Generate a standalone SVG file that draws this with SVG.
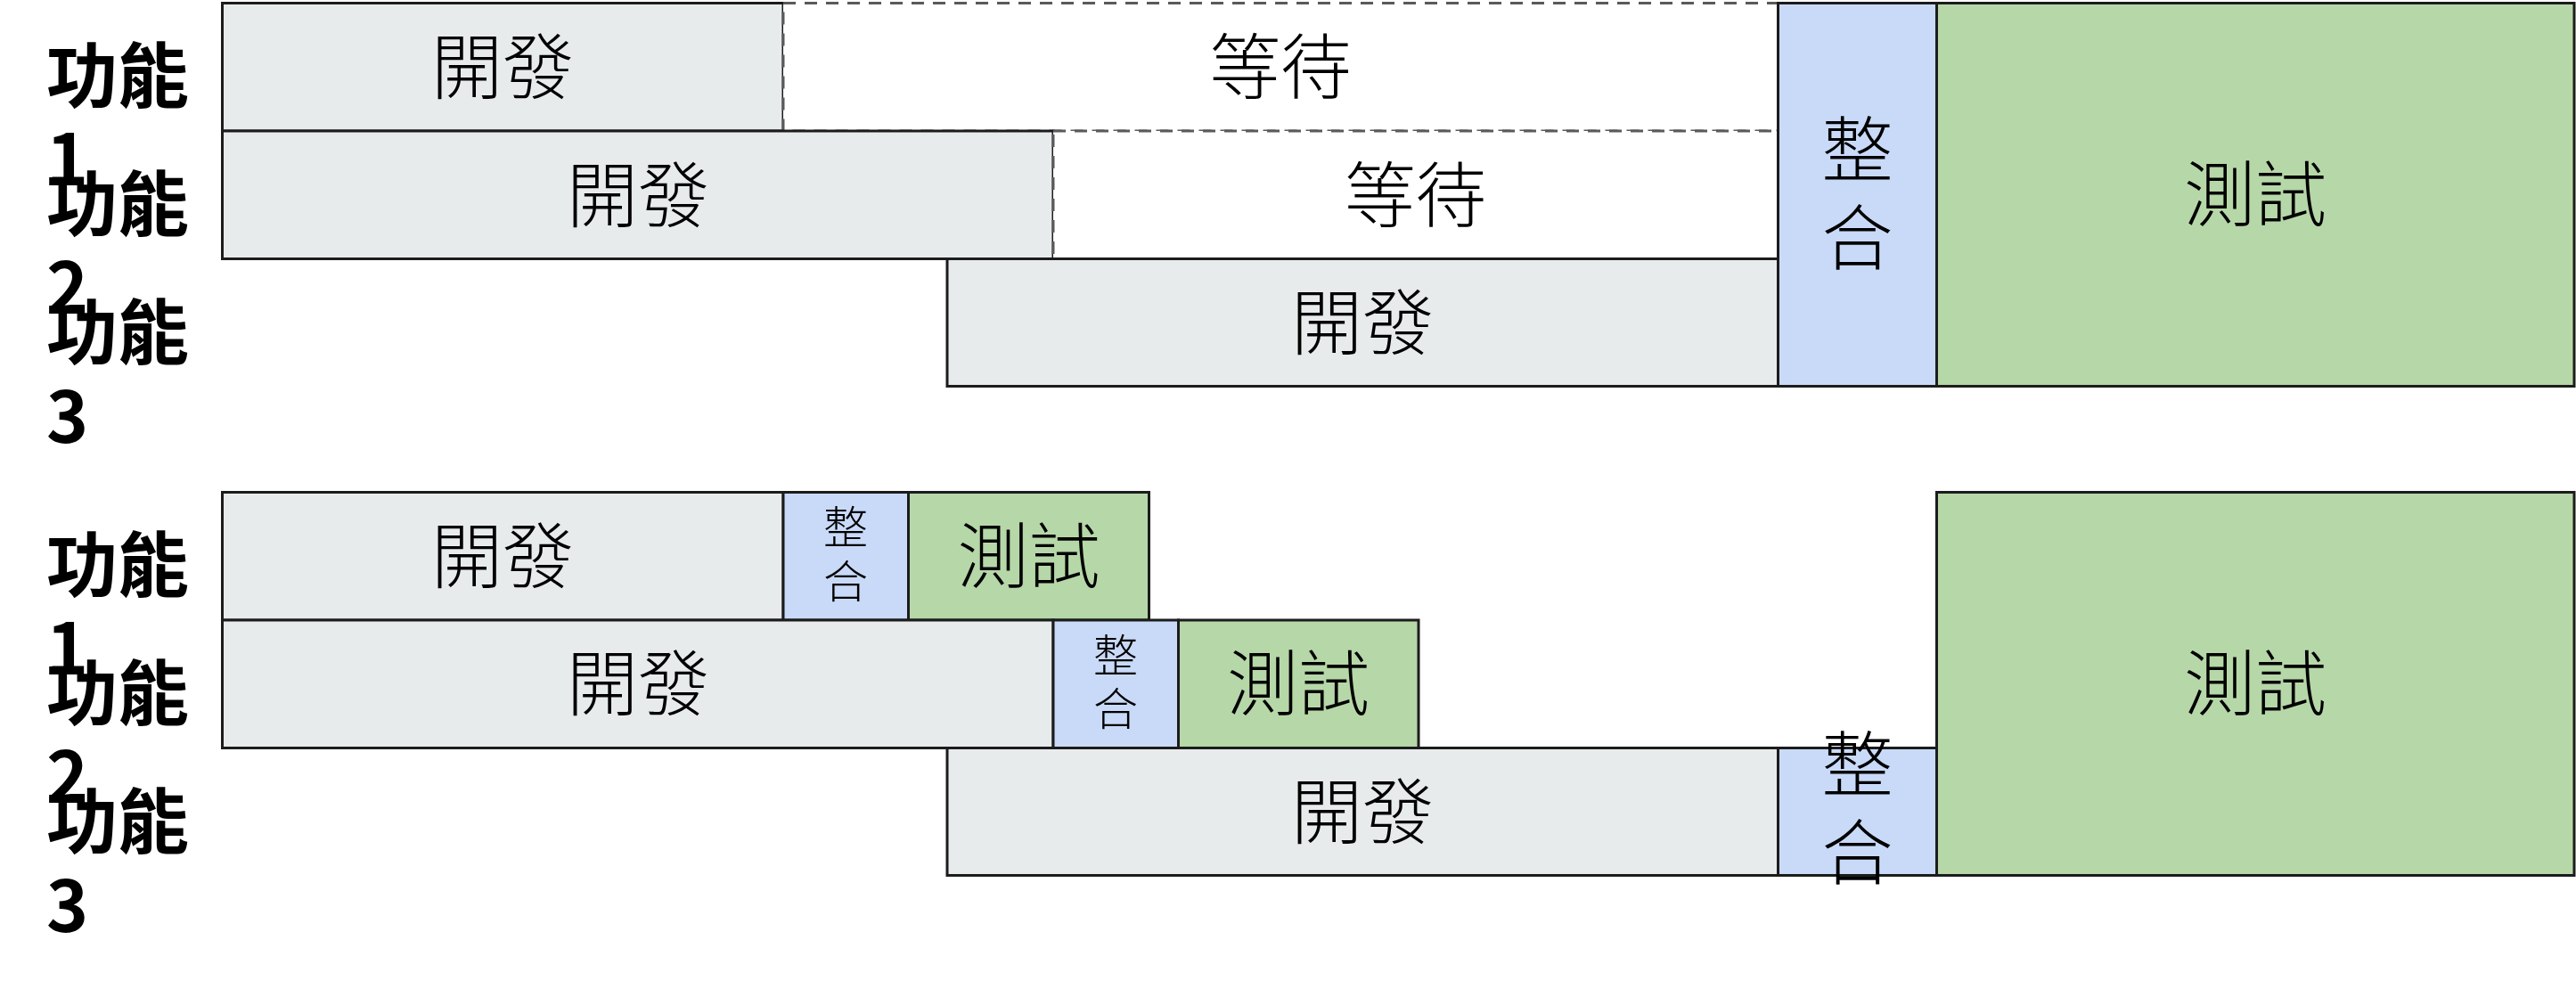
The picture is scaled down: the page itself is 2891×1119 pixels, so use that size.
<svg xmlns="http://www.w3.org/2000/svg" width="2891" height="1119" viewBox="0 0 2891 1119">
  <style>
    .dev { fill: #e8ebec; stroke: #1c1c1c; stroke-width: 3; }
    .wait { fill: #ffffff; stroke: #5a5a5a; stroke-width: 3; stroke-dasharray: 14 10; }
    .integ { fill: #c9daf8; stroke: #1c1c1c; stroke-width: 3; }
    .test { fill: #b6d7a8; stroke: #1c1c1c; stroke-width: 3; }
    .lbl { font-family: "Noto Sans CJK TC", "Noto Sans CJK SC", sans-serif; font-weight: 700; font-size: 80px; fill: #000; }
    .t { font-family: "Noto Sans CJK TC", "Noto Sans CJK SC", sans-serif; font-weight: 300; font-size: 80px; fill: #000; text-anchor: middle; }
    .ts { font-family: "Noto Sans CJK TC", "Noto Sans CJK SC", sans-serif; font-weight: 300; font-size: 50px; fill: #000; text-anchor: middle; }
  </style>
  <rect width="2891" height="1119" fill="#ffffff"/>

  <!-- Top section: row labels -->
  <g id="top-label-1"><text class="lbl"><tspan x="52" y="114">功能</tspan><tspan x="52" y="208">1</tspan></text></g>
  <g id="top-label-2"><text class="lbl"><tspan x="52" y="258">功能</tspan><tspan x="52" y="352">2</tspan></text></g>
  <g id="top-label-3"><text class="lbl"><tspan x="52" y="402">功能</tspan><tspan x="52" y="497">3</tspan></text></g>

  <!-- Top section: bars -->
  <g id="top-dev-1"><rect class="dev" x="249.5" y="3.5" width="629.5" height="143.5"/><text class="t" x="564" y="104">開發</text></g>
  <g id="top-wait-1"><rect class="wait" x="879" y="3.5" width="1116.5" height="143.5"/><text class="t" x="1437" y="104">等待</text></g>
  <g id="top-dev-2"><rect class="dev" x="249.5" y="147" width="932.5" height="143.5"/><text class="t" x="716" y="247.5">開發</text></g>
  <g id="top-wait-2"><rect class="wait" x="1182" y="147" width="813.5" height="143.5"/><text class="t" x="1588.5" y="247.5">等待</text></g>
  <g id="top-dev-3"><rect class="dev" x="1063" y="290.5" width="932.5" height="143"/><text class="t" x="1529" y="391">開發</text></g>
  <g id="top-integ"><rect class="integ" x="1995.5" y="3.5" width="178" height="430"/><text class="t"><tspan x="2084.5" y="197">整</tspan><tspan x="2084.5" y="296">合</tspan></text></g>
  <g id="top-test"><rect class="test" x="2173.5" y="3.5" width="715.5" height="430"/><text class="t" x="2531" y="247">測試</text></g>

  <!-- Bottom section: row labels -->
  <g id="bot-label-1"><text class="lbl"><tspan x="52" y="663">功能</tspan><tspan x="52" y="757">1</tspan></text></g>
  <g id="bot-label-2"><text class="lbl"><tspan x="52" y="807">功能</tspan><tspan x="52" y="901">2</tspan></text></g>
  <g id="bot-label-3"><text class="lbl"><tspan x="52" y="951">功能</tspan><tspan x="52" y="1046">3</tspan></text></g>

  <!-- Bottom section: bars -->
  <g id="bot-dev-1"><rect class="dev" x="249.5" y="552.5" width="629.5" height="143.5"/><text class="t" x="564" y="653">開發</text></g>
  <g id="bot-integ-1"><rect class="integ" x="879" y="552.5" width="140.5" height="143.5"/><text class="ts"><tspan x="949" y="610">整</tspan><tspan x="949" y="671">合</tspan></text></g>
  <g id="bot-test-1"><rect class="test" x="1019.5" y="552.5" width="270" height="143.5"/><text class="t" x="1154.5" y="653">測試</text></g>
  <g id="bot-dev-2"><rect class="dev" x="249.5" y="696" width="932.5" height="143.5"/><text class="t" x="716" y="796">開發</text></g>
  <g id="bot-integ-2"><rect class="integ" x="1182" y="696" width="140.5" height="143.5"/><text class="ts"><tspan x="1252" y="754">整</tspan><tspan x="1252" y="814">合</tspan></text></g>
  <g id="bot-test-2"><rect class="test" x="1322.5" y="696" width="269.5" height="143.5"/><text class="t" x="1457" y="796">測試</text></g>
  <g id="bot-dev-3"><rect class="dev" x="1063" y="839.5" width="932.5" height="143"/><text class="t" x="1529" y="940">開發</text></g>
  <g id="bot-integ-3"><rect class="integ" x="1995.5" y="839.5" width="178" height="143"/><text class="t"><tspan x="2084.5" y="887">整</tspan><tspan x="2084.5" y="986">合</tspan></text></g>
  <g id="bot-test"><rect class="test" x="2173.5" y="552.5" width="715.5" height="430"/><text class="t" x="2531" y="796">測試</text></g>

  <g id="connectors"></g>
</svg>
